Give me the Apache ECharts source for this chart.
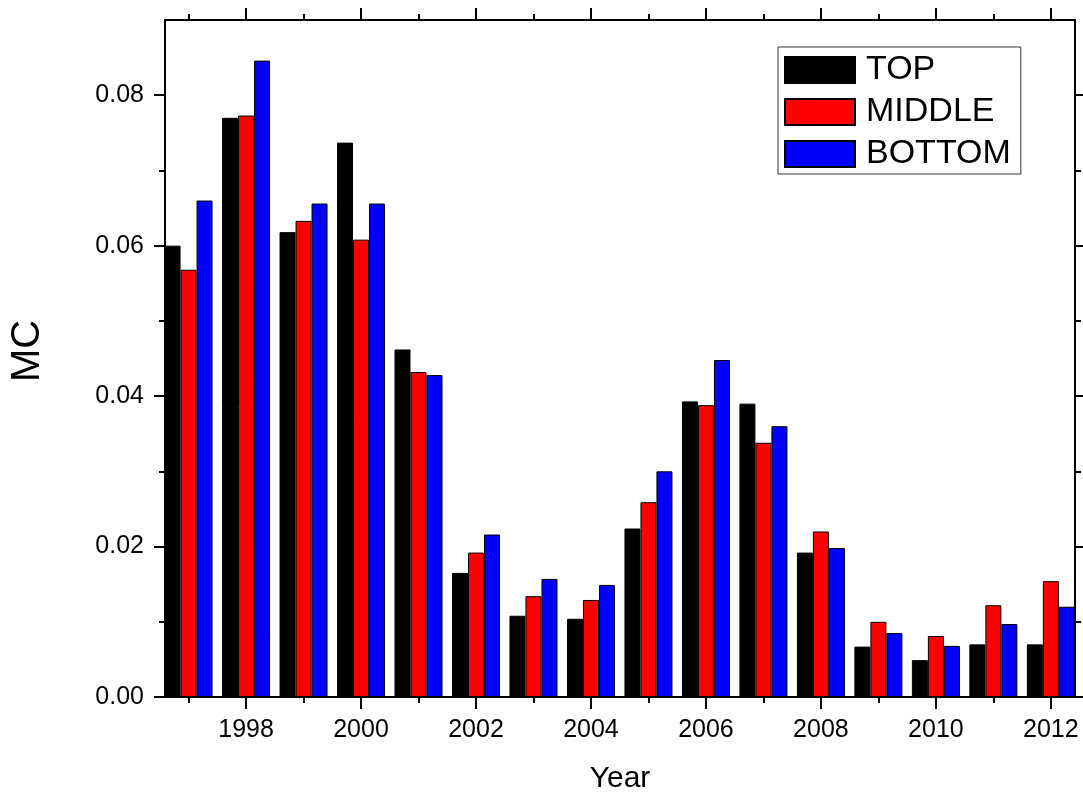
<!DOCTYPE html>
<html>
<head>
<meta charset="utf-8">
<script src="https://cdn.jsdelivr.net/npm/echarts@6/dist/echarts.min.js"></script>
<style>
html,body{margin:0;padding:0;background:#fff;}
#chart{width:1083px;height:798px;}
</style>
</head>
<body>
<div id="chart"></div>
<script>
const years = [1997,1998,1999,2000,2001,2002,2003,2004,2005,2006,2007,2008,2009,2010,2011,2012];
const topValues    = [0.0600,0.0770,0.0618,0.0737,0.0462,0.0165,0.0108,0.0104,0.0224,0.0393,0.0390,0.0192,0.0067,0.0049,0.0070,0.0070];
const middleValues = [0.0568,0.0773,0.0633,0.0608,0.0432,0.0192,0.0134,0.0129,0.0259,0.0388,0.0338,0.0220,0.0100,0.0081,0.0122,0.0154];
const bottomValues = [0.0660,0.0846,0.0656,0.0656,0.0428,0.0216,0.0157,0.0149,0.0300,0.0448,0.0360,0.0198,0.0085,0.0068,0.0097,0.0120];
const seriesNames = ['TOP','MIDDLE','BOTTOM'];
const seriesColors = ['#000000','#ff0000','#0000ff'];
const xMajorTicks = [1998,2000,2002,2004,2006,2008,2010,2012];
const xMinorTicks = [1997,1999,2001,2003,2005,2007,2009,2011];
const yMajorTicks = [0,0.02,0.04,0.06,0.08];
const yMinorTicks = [0.01,0.03,0.05,0.07];
const xMin = 1996.59, xMax = 2012.42;
const yMin = 0, yMax = 0.09;

const FONT = "'Liberation Sans', Arial, Helvetica, sans-serif";
const lineStyle = {color:'#000', width:2};

function xAx(position, ticks, len, showLine, showLabels){
  return {
    type:'value', position:position, min:xMin, max:xMax,
    axisLine:{show:showLine, onZero:false, lineStyle:lineStyle},
    axisTick:{show:true, inside:false, length:len, lineStyle:lineStyle, customValues:ticks},
    axisLabel:showLabels ? {show:true, customValues:ticks, fontSize:25, fontFamily:FONT, color:'#000', margin:21, formatter:v=>String(v)} : {show:false},
    splitLine:{show:false}
  };
}
function yAx(position, ticks, len, showLine, showLabels){
  return {
    type:'value', position:position, min:yMin, max:yMax,
    axisLine:{show:showLine, onZero:false, lineStyle:lineStyle},
    axisTick:{show:true, inside:false, length:len, lineStyle:lineStyle, customValues:ticks},
    axisLabel:showLabels ? {show:true, customValues:ticks, fontSize:25, fontFamily:FONT, color:'#000', margin:21, formatter:v=>v.toFixed(2)} : {show:false},
    splitLine:{show:false}
  };
}

const valueSets = [topValues, middleValues, bottomValues];
const series = seriesNames.map((name,i)=>({
  name:name, type:'bar', xAxisIndex:0, yAxisIndex:0,
  barWidth:16, barGap:'0%', clip:true,
  itemStyle:{color:seriesColors[i], borderColor:'#000', borderWidth:1},
  data: years.map((y,j)=>[y, valueSets[i][j]])
}));

const chart = echarts.init(document.getElementById('chart'), null, {renderer:'canvas'});
chart.setOption({
  animation:false,
  backgroundColor:'#fff',
  textStyle:{fontFamily:FONT},
  grid:{left:165, right:8, top:20, bottom:101, containLabel:false},
  xAxis:[
    xAx('bottom', xMajorTicks, 12, true, true),
    xAx('bottom', xMinorTicks, 6, false, false),
    xAx('top', xMajorTicks, 12, true, false),
    xAx('top', xMinorTicks, 6, false, false)
  ],
  yAxis:[
    yAx('left', yMajorTicks, 11, true, true),
    yAx('left', yMinorTicks, 6, false, false),
    yAx('right', yMajorTicks, 11, true, false),
    yAx('right', yMinorTicks, 6, false, false)
  ],
  legend:{
    orient:'vertical', left:778, top:47,
    itemWidth:70, itemHeight:26, itemGap:8,
    padding:[6,10,3,6],
    borderColor:'#333', borderWidth:1,
    icon:'rect',
    textStyle:{fontSize:34, fontFamily:FONT, color:'#000', padding:[0,0,0,6]},
    data:seriesNames
  },
  graphic:[
    {type:'text', x:28, y:351, rotation:Math.PI/2,
     style:{text:'MC', fontSize:40, fontFamily:FONT, fill:'#000', align:'center', verticalAlign:'middle'}},
    {type:'text', x:620, y:779,
     style:{text:'Year', fontSize:30, fontFamily:FONT, fill:'#000', align:'center', verticalAlign:'middle'}}
  ],
  series:series
});
</script>
</body>
</html>
